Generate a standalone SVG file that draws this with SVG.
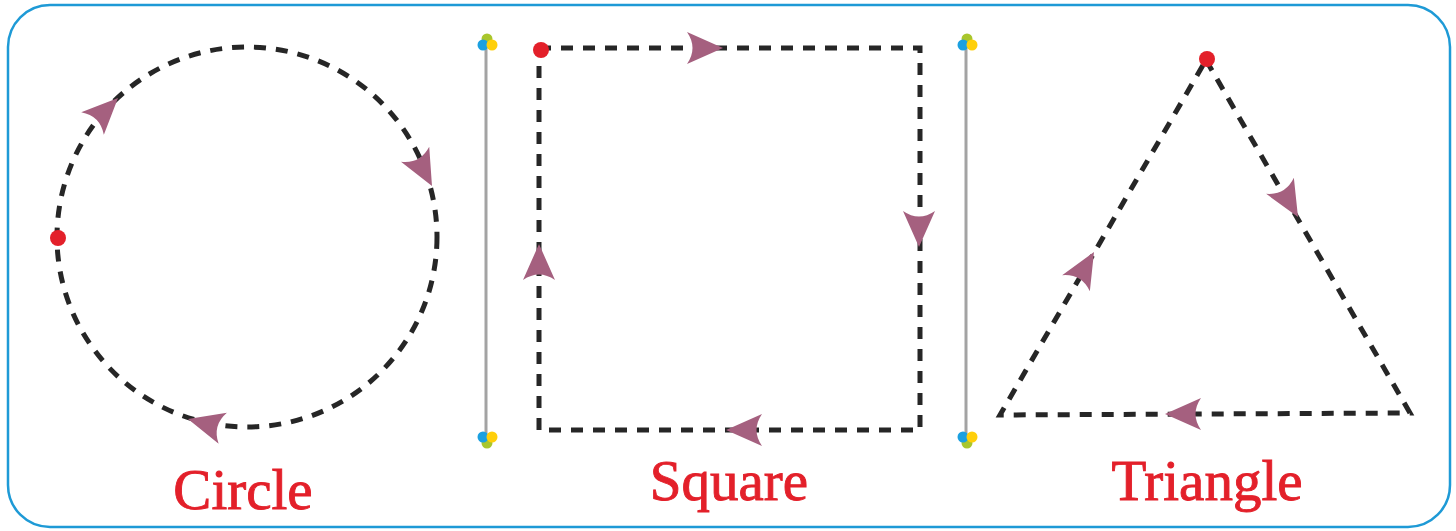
<svg xmlns="http://www.w3.org/2000/svg" width="1456" height="531" viewBox="0 0 1456 531">
<defs>
<style>
.dash{fill:none;stroke:#262626;stroke-width:5;stroke-dasharray:12 10}
.arr{fill:#A5607F}
.sep{stroke:#A3A3A3;stroke-width:3}
.start{fill:#E3202A}
.lbl{font-family:"Liberation Serif","DejaVu Serif",serif;font-size:57px;fill:#E3202A;stroke:#E3202A;stroke-width:0.9;text-anchor:middle}
.g{fill:#A9C62C}.b{fill:#1BA0E0}.y{fill:#FFCF0A}
</style>
<path id="ah" d="M0,0 L-36,-16 Q-25,0 -36,16 Z"/>
</defs>
<rect x="8" y="5" width="1442" height="522" rx="42" ry="42" fill="#fff" stroke="#1E9AD6" stroke-width="2.5"/>
<g id="connectors">
<line class="sep" x1="486" y1="44" x2="486" y2="437"/>
<line class="sep" x1="966" y1="44" x2="966" y2="437"/>
</g>
<g id="sep-left-dots">
<circle class="g" cx="487" cy="39" r="5.5"/><circle class="b" cx="483" cy="45" r="5.5"/><circle class="y" cx="492" cy="45" r="5.5"/>
<circle class="g" cx="487" cy="443" r="5.5"/><circle class="b" cx="483" cy="437" r="5.5"/><circle class="y" cx="492" cy="437" r="5.5"/>
</g>
<g id="sep-right-dots">
<circle class="g" cx="967" cy="39" r="5.5"/><circle class="b" cx="963" cy="45" r="5.5"/><circle class="y" cx="972" cy="45" r="5.5"/>
<circle class="g" cx="967" cy="443" r="5.5"/><circle class="b" cx="963" cy="437" r="5.5"/><circle class="y" cx="972" cy="437" r="5.5"/>
</g>
<g id="circle">
<circle class="dash" cx="247" cy="237" r="190"/>
<use href="#ah" class="arr" transform="translate(118,98) rotate(-45)"/>
<use href="#ah" class="arr" transform="translate(432,186) rotate(62)"/>
<use href="#ah" class="arr" transform="translate(188,419) rotate(195)"/>
<circle class="start" cx="58" cy="238" r="8"/>
<text class="lbl" x="243" y="509">Circle</text>
</g>
<g id="square">
<rect class="dash" x="539" y="48" width="381" height="382"/>
<use href="#ah" class="arr" transform="translate(723,48)"/>
<use href="#ah" class="arr" transform="translate(919,247) rotate(90)"/>
<use href="#ah" class="arr" transform="translate(726,430) rotate(180)"/>
<use href="#ah" class="arr" transform="translate(539,244) rotate(-90)"/>
<circle class="start" cx="541" cy="50" r="8"/>
<text class="lbl" x="729" y="500">Square</text>
</g>
<g id="triangle">
<path class="dash" d="M1206,60 L1410,413 L1000,415 Z"/>
<use href="#ah" class="arr" transform="translate(1298,217) rotate(60)"/>
<use href="#ah" class="arr" transform="translate(1165,414) rotate(180)"/>
<use href="#ah" class="arr" transform="translate(1094,252) rotate(-60)"/>
<circle class="start" cx="1207" cy="59" r="8"/>
<text class="lbl" x="1207" y="500">Triangle</text>
</g>
</svg>
